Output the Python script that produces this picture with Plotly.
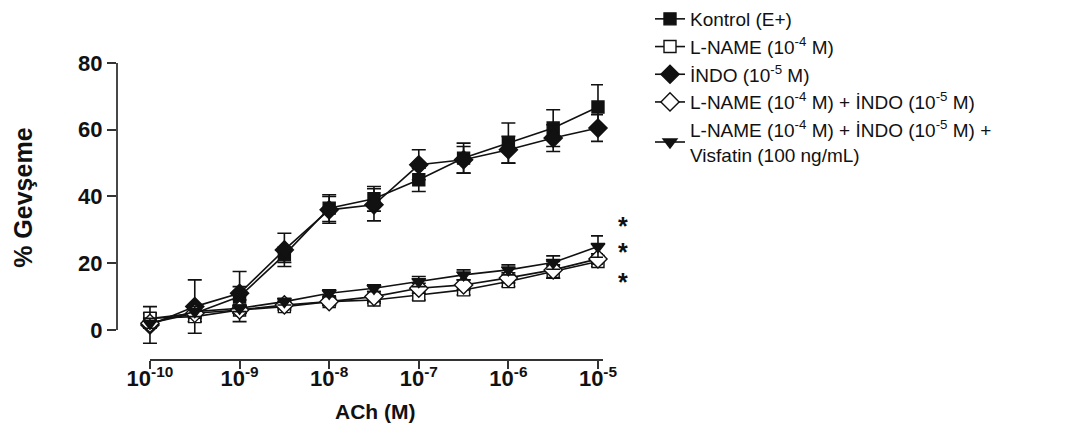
import plotly.graph_objects as go

# ---- data ----
log_conc = [-10, -9.5, -9, -8.5, -8, -7.5, -7, -6.5, -6, -5.5, -5]
tick_vals = [-10, -9, -8, -7, -6, -5]
tick_text = ["10<sup>-10</sup>", "10<sup>-9</sup>", "10<sup>-8</sup>",
             "10<sup>-7</sup>", "10<sup>-6</sup>", "10<sup>-5</sup>"]
y_ticks = [0, 20, 40, 60, 80]

kontrol = [3.4, 5.0, 10.0, 22.5, 36.5, 39.3, 45.0, 51.5, 56.0, 60.5, 66.8]
kontrol_sem = [1.5, 2.5, 7.5, 2.3, 4.0, 3.7, 3.5, 4.5, 6.0, 5.5, 6.7]
lname = [3.5, 4.0, 6.0, 7.0, 8.5, 9.0, 10.5, 12.0, 14.5, 17.5, 20.5]
lname_sem = [1.5, 1.5, 1.0, 1.0, 1.0, 1.0, 1.5, 1.5, 1.5, 2.0, 1.5]
indo = [1.5, 7.0, 11.0, 24.0, 36.0, 37.5, 49.5, 51.0, 54.0, 57.5, 60.5]
indo_sem = [5.5, 8.0, 2.0, 5.0, 4.0, 4.8, 4.5, 4.0, 4.0, 4.0, 4.0]
lname_indo = [2.0, 5.0, 6.0, 7.5, 8.5, 10.0, 12.5, 13.5, 15.6, 18.0, 21.3]
lname_indo_sem = [1.5, 1.5, 1.0, 1.0, 1.0, 1.5, 1.5, 1.5, 1.5, 2.5, 1.5]
visfatin = [2.0, 5.5, 6.5, 8.5, 11.0, 12.5, 14.5, 16.5, 18.0, 20.2, 25.0]
visfatin_sem = [1.5, 1.5, 1.0, 1.0, 1.0, 1.0, 1.5, 1.5, 1.5, 2.0, 3.2]

series_names = [
    "Kontrol (E+)",
    "L-NAME (10<sup>-4</sup> M)",
    "İNDO (10<sup>-5</sup> M)",
    "L-NAME (10<sup>-4</sup> M) + İNDO (10<sup>-5</sup> M)",
    "L-NAME (10<sup>-4</sup> M) + İNDO (10<sup>-5</sup> M) +<br>Visfatin (100 ng/mL)",
]
star_y = [31.2, 23.4, 14.3]

FONT = "Arial, Liberation Sans, sans-serif"
INK = "#111111"
W, H = 1067, 432

styles = [
    (kontrol, kontrol_sem, "square", INK, 12),
    (lname, lname_sem, "square", "white", 12),
    (indo, indo_sem, "diamond", INK, 14),
    (lname_indo, lname_indo_sem, "diamond", "white", 14),
    (visfatin, visfatin_sem, "triangle-down", INK, 12),
]

fig = go.Figure()
for name, (vals, sem, sym, fill, size) in zip(series_names, styles):
    fig.add_trace(go.Scatter(
        x=log_conc, y=vals, name=name, mode="lines+markers",
        line=dict(color=INK, width=1.6),
        marker=dict(symbol=sym, color=fill, size=size,
                    line=dict(color=INK, width=1.4)),
        error_y=dict(type="data", array=sem, visible=True,
                     color=INK, thickness=1.6, width=7),
        cliponaxis=False,
    ))

x0, x1 = -10.368, -4.944
fig.update_layout(
    width=W, height=H,
    margin=dict(l=117, r=W - 603, t=63, b=72, autoexpand=False),
    paper_bgcolor="white", plot_bgcolor="white",
    font=dict(family=FONT, color=INK),
    showlegend=True,
    legend=dict(
        xref="container", yref="container",
        x=650 / W, y=1 - 0 / H, xanchor="left", yanchor="top",
        font=dict(size=19, family=FONT, color=INK),
        bgcolor="rgba(0,0,0,0)", tracegroupgap=0,
        itemwidth=30,
    ),
    xaxis=dict(
        range=[x0, x1], showgrid=False, zeroline=False, showline=False,
        tickmode="array", tickvals=tick_vals, ticktext=tick_text,
        ticks="outside", ticklen=8, tickwidth=1.6, tickcolor="#333333",
        tickfont=dict(size=22, family=FONT, weight="bold", color=INK),
        ticklabelstandoff=-9, automargin=False,
    ),
    yaxis=dict(
        range=[-9, 80], showgrid=False, zeroline=False, showline=False,
        tickmode="array", tickvals=y_ticks,
        ticks="outside", ticklen=9, tickwidth=1.6, tickcolor="#333333",
        tickfont=dict(size=22, family=FONT, weight="bold", color=INK),
        automargin=False,
    ),
)

# offset axis lines (Prism style)
fig.add_shape(type="line", xref="paper", yref="y", x0=0, x1=0, y0=0, y1=80,
              line=dict(color="#333333", width=1.8))
fig.add_shape(type="line", xref="x", yref="paper", x0=-10, x1=x1, y0=0, y1=0,
              line=dict(color="#333333", width=1.8))

# axis titles
fig.add_annotation(text="<b>ACh (M)</b>", xref="paper", yref="paper",
                   x=(375 - 117) / 486, y=(360 - 411) / 296.7,
                   xanchor="center", yanchor="middle", showarrow=False,
                   font=dict(size=21, family=FONT, color=INK))
fig.add_annotation(text="<b>% Gevşeme</b>", xref="paper", yref="paper",
                   x=(23 - 117) / 486, y=(360 - 198) / 296.7,
                   xanchor="center", yanchor="middle", textangle=-90,
                   showarrow=False,
                   font=dict(size=25, family=FONT, color=INK))

# significance asterisks
for sy in star_y:
    fig.add_annotation(text="<b>*</b>", xref="paper", yref="y",
                       x=(623 - 117) / 486, y=sy, height=22,
                       xanchor="center", yanchor="middle", showarrow=False,
                       font=dict(size=25, family=FONT, color=INK))

fig.write_html("out.html")
